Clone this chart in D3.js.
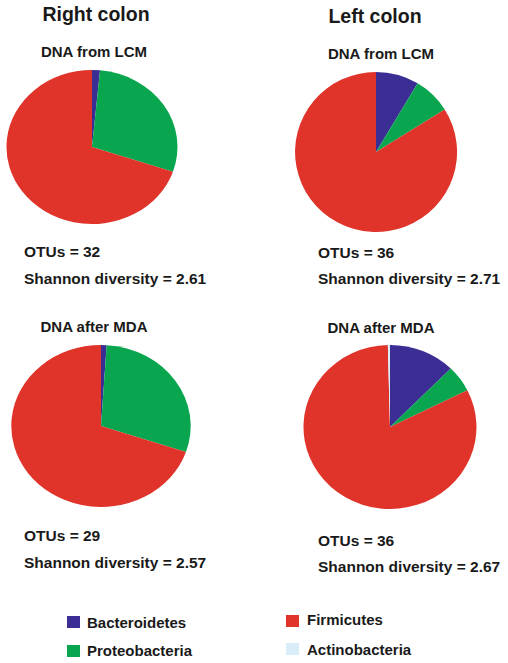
<!DOCTYPE html>
<html>
<head>
<meta charset="utf-8">
<script src="https://cdn.jsdelivr.net/npm/d3@7"></script>
<style>
  html, body { margin: 0; padding: 0; background: #fff; }
  svg text { font-family: "Liberation Sans", Arial, Helvetica, sans-serif; font-weight: bold; fill: #1a1a1a; }
</style>
</head>
<body>
<div id="chart"></div>
<script>
// ---- data ----
const categories = ["Bacteroidetes", "Proteobacteria", "Firmicutes", "Actinobacteria"];
const colors = ["#3a2e94", "#0aa64f", "#e0332a", "#d8edf8"];
const columnTitles = ["Right colon", "Left colon"];
const panelTitles = ["DNA from LCM", "DNA from LCM", "DNA after MDA", "DNA after MDA"];
// percentage per category (order as categories), one per panel
const rightLCM = [1.5, 28.7, 69.8, 0];
const leftLCM  = [8.6, 7.5, 83.9, 0];
const rightMDA = [1.0, 29.2, 69.8, 0];
const leftMDA  = [12.4, 5.2, 82.0, 0.4];
const otus = [32, 36, 29, 36];
const shannon = ["2.61", "2.71", "2.57", "2.67"];

// ---- layout ----
const W = 508, H = 663;
const svg = d3.select("#chart").append("svg").attr("width", W).attr("height", H);

const color = d3.scaleOrdinal().domain(categories).range(colors);
const pie = d3.pie().sort(null).value(d => d.v);
const arc = d3.arc().innerRadius(0).outerRadius(1);

const panels = [
  { vals: rightLCM, cx: 92,  cy: 147, rx: 85.5, ry: 77, titleX: 94,  titleY: 57,  textX: 24,  otuY: 257, shY: 284 },
  { vals: leftLCM,  cx: 376, cy: 152, rx: 81,   ry: 80, titleX: 381, titleY: 59,  textX: 318, otuY: 258, shY: 284 },
  { vals: rightMDA, cx: 101, cy: 426, rx: 89.7, ry: 81, titleX: 94,  titleY: 332, textX: 24,  otuY: 541, shY: 567.5 },
  { vals: leftMDA,  cx: 390, cy: 427, rx: 86.5, ry: 82, titleX: 381, titleY: 333, textX: 318, otuY: 545.5, shY: 572 }
];

// column titles
svg.append("text").attr("x", 96).attr("y", 21).attr("text-anchor", "middle")
  .style("font-size", "19.5px").text(columnTitles[0]);
svg.append("text").attr("x", 375).attr("y", 23).attr("text-anchor", "middle")
  .style("font-size", "19.5px").text(columnTitles[1]);

panels.forEach((p, i) => {
  const data = categories.map((c, k) => ({ c, v: p.vals[k] }));
  svg.append("text").attr("x", p.titleX).attr("y", p.titleY).attr("text-anchor", "middle")
    .style("font-size", "15px").text(panelTitles[i]);
  const g = svg.append("g").attr("transform", `translate(${p.cx},${p.cy}) scale(${p.rx},${p.ry})`);
  g.selectAll("path").data(pie(data).filter(d => d.data.v > 0)).join("path")
    .attr("d", arc)
    .attr("fill", d => color(d.data.c));
  svg.append("text").attr("x", p.textX).attr("y", p.otuY)
    .style("font-size", "15.5px").text(`OTUs = ${otus[i]}`);
  svg.append("text").attr("x", p.textX).attr("y", p.shY)
    .style("font-size", "15.5px").text(`Shannon diversity = ${shannon[i]}`);
});

// legend
const legendPos = [
  { x: 67, y: 616, tx: 87, ty: 627.5 },
  { x: 67, y: 645, tx: 87, ty: 655.5 },
  { x: 286, y: 615, tx: 307, ty: 625 },
  { x: 286, y: 643, tx: 307, ty: 654.5 }
];
categories.forEach((c, k) => {
  const lp = legendPos[k];
  svg.append("rect").attr("x", lp.x).attr("y", lp.y).attr("width", 13).attr("height", 12)
    .attr("fill", color(c));
  svg.append("text").attr("x", lp.tx).attr("y", lp.ty)
    .style("font-size", "15px").text(c);
});
</script>
</body>
</html>
